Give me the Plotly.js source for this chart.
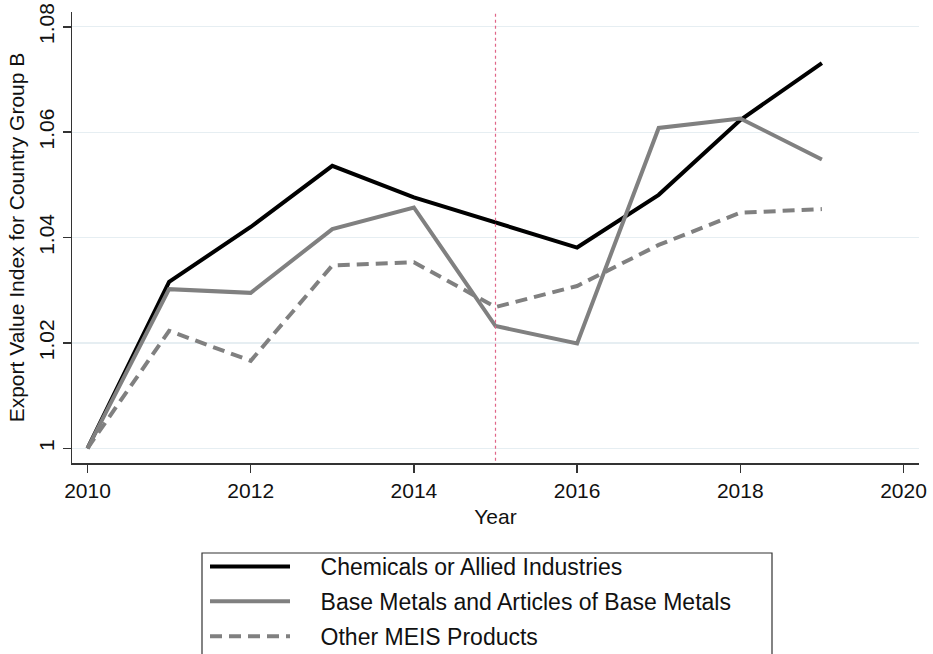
<!DOCTYPE html>
<html>
<head>
<meta charset="utf-8">
<script src="https://cdn.plot.ly/plotly-3.0.1.min.js"></script>
<style>html,body{margin:0;padding:0;background:#fff;}#chart{width:933px;height:654px;}</style>
</head>
<body>
<div id="chart"></div>
<script>
const years = [2010, 2011, 2012, 2013, 2014, 2015, 2016, 2017, 2018, 2019];
const chemicals = [1.0, 1.0316, 1.0420, 1.0536, 1.0476, 1.0428, 1.0381, 1.0481, 1.0623, 1.0731];
const baseMetals = [1.0, 1.0302, 1.0295, 1.0416, 1.0457, 1.0232, 1.0199, 1.0608, 1.0626, 1.0548];
const otherMeis = [1.0, 1.0223, 1.0166, 1.0347, 1.0353, 1.0268, 1.0308, 1.0386, 1.0447, 1.0454];
const seriesNames = ["Chemicals or Allied Industries", "Base Metals and Articles of Base Metals", "Other MEIS Products"];
const yTicks = [1, 1.02, 1.04, 1.06, 1.08];
const yTickText = ["1", "1.02", "1.04", "1.06", "1.08"];
const xTicks = [2010, 2012, 2014, 2016, 2018, 2020];
const policyYear = 2015;

const font = "Liberation Sans, Arial, Helvetica, sans-serif";
const pad = "\u00a0\u00a0\u00a0\u00a0";

const traces = [
  {x: years, y: chemicals, name: pad + seriesNames[0], mode: "lines", legendgroup: "a",
   line: {color: "#000000", width: 4}},
  {x: years, y: baseMetals, name: pad + seriesNames[1], mode: "lines", legendgroup: "b",
   line: {color: "#808080", width: 4}},
  {x: years, y: otherMeis, name: pad + seriesNames[2], mode: "lines", legendgroup: "c",
   line: {color: "#808080", width: 4, dash: "12px,7px"}}
];

const layout = {
  width: 933, height: 654,
  margin: {l: 72, r: 14, t: 12, b: 191, autoexpand: false},
  paper_bgcolor: "#ffffff", plot_bgcolor: "#ffffff",
  font: {family: font, size: 21, color: "#111111"},
  showlegend: true,
  legend: {
    x: (205 - 72) / 847, xanchor: "left", y: (463 - 545) / 451, yanchor: "top",
    bgcolor: "rgba(0,0,0,0)", borderwidth: 0,
    font: {family: font, size: 23, color: "#111111"},
    traceorder: "grouped", tracegroupgap: 2, itemwidth: 80
  },
  xaxis: {
    range: [2009.81, 2020.19], tickvals: xTicks, ticks: "outside", ticklen: 8, tickwidth: 1.5,
    tickcolor: "#333333", showline: true, linecolor: "#333333", linewidth: 1.5,
    showgrid: false, zeroline: false, tickfont: {size: 21},
    title: {text: "Year", font: {size: 21}, standoff: 8}
  },
  yaxis: {
    range: [0.99721, 1.0828], tickvals: yTicks, ticktext: yTickText, tickangle: -90,
    ticks: "outside", ticklen: 8, tickwidth: 1.5, tickcolor: "#333333",
    showline: true, linecolor: "#333333", linewidth: 1.5,
    showgrid: true, gridcolor: "#e6eef2", gridwidth: 1.2, zeroline: false,
    tickfont: {size: 21},
    title: {text: "Export Value Index for Country Group B", font: {size: 21}, standoff: 4}
  },
  shapes: [
    {type: "line", xref: "x", yref: "paper", x0: policyYear, x1: policyYear, y0: 0.005, y1: 0.997,
     line: {color: "#e06688", width: 1.2, dash: "dot"}},
    {type: "rect", xref: "paper", yref: "paper", x0: (202 - 72) / 847, x1: (772 - 72) / 847,
     y0: (463 - 553) / 451, y1: (463 - 680) / 451, line: {color: "#333333", width: 1.2}}
  ]
};

Plotly.newPlot("chart", traces, layout, {displayModeBar: false, staticPlot: true});
</script>
</body>
</html>
